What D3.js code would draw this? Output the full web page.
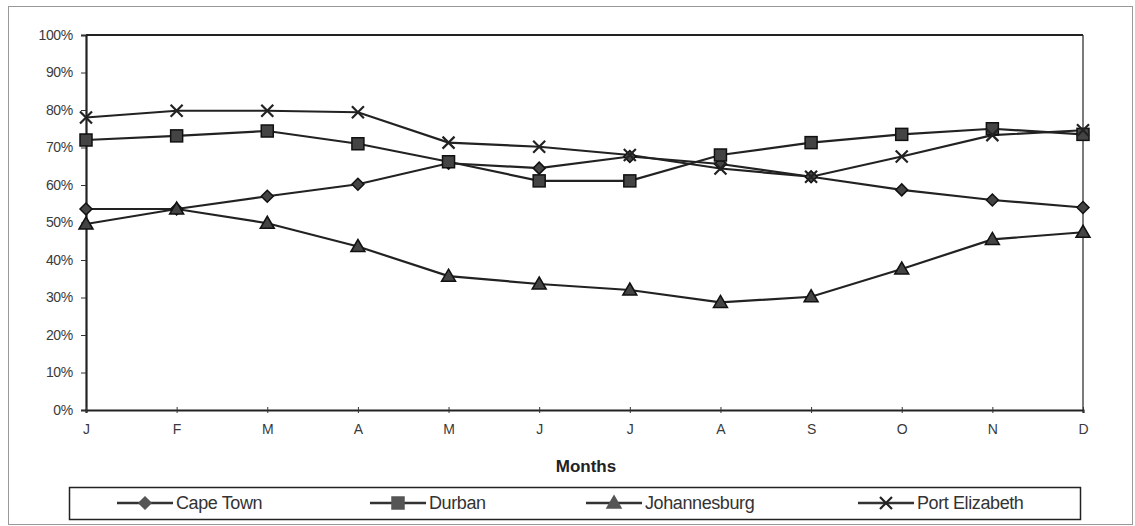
<!DOCTYPE html>
<html><head><meta charset="utf-8">
<script src="https://cdn.jsdelivr.net/npm/d3@7"></script>
<style>body{margin:0;background:#fff;}svg{display:block;font-family:"Liberation Sans",Arial,sans-serif;}</style>
</head><body><svg id="c" width="1135" height="526"></svg>
<script>
const months = ["J","F","M","A","M","J","J","A","S","O","N","D"];
const yTicks = [0,10,20,30,40,50,60,70,80,90,100];
const capeTown = [53.6,53.6,57,60.2,65.8,64.5,67.6,65.6,62.2,58.7,56,54];
const durban = [72,73.1,74.4,71,66.2,61.1,61.1,68,71.3,73.5,75,73.5];
const johannesburg = [49.6,53.6,49.8,43.6,35.7,33.6,32,28.7,30.2,37.6,45.5,47.4];
const portElizabeth = [78,79.8,79.8,79.4,71.3,70.2,68,64.4,62.2,67.6,73.3,74.6];
const seriesNames = ["Cape Town","Durban","Johannesburg","Port Elizabeth"];
const seriesData = [capeTown, durban, johannesburg, portElizabeth];
const seriesMarkers = ["diamond","square","triangle","x"];

const svg = d3.select("#c");
const L = 86, R = 1083, T = 35, B = 410;
const x = d3.scalePoint().domain(d3.range(months.length)).range([L, R]).padding(0);
const y = d3.scaleLinear().domain([0, 100]).range([B, T]);

// outer frame
svg.append("rect").attr("x", 8.5).attr("y", 6.5).attr("width", 1124).attr("height", 518)
  .attr("fill", "none").attr("stroke", "#999").attr("stroke-width", 1);

// plot frame top/right
svg.append("line").attr("x1", L).attr("x2", R).attr("y1", T).attr("y2", T).attr("stroke", "#222").attr("stroke-width", 2);
svg.append("line").attr("x1", R).attr("x2", R).attr("y1", T).attr("y2", B).attr("stroke", "#333").attr("stroke-width", 1.3);

// axes
const yAxis = d3.axisLeft(y).tickValues(yTicks).tickFormat(d => d + "%").tickSize(5).tickPadding(8);
const gy = svg.append("g").attr("transform", `translate(${L},0)`).call(yAxis);
gy.select(".domain").attr("stroke", "#222").attr("stroke-width", 2.2);
gy.selectAll(".tick line").attr("stroke", "#333");
gy.selectAll("text").attr("font-size", 14).attr("fill", "#3a3a3a").attr("letter-spacing", -0.3);

const xAxis = d3.axisBottom(x).tickFormat(i => months[i]).tickSize(3).tickPadding(11);
const gx = svg.append("g").attr("transform", `translate(0,${B})`).call(xAxis);
gx.select(".domain").attr("stroke", "#222").attr("stroke-width", 2.2);
gx.selectAll(".tick line").attr("stroke", "#333").attr("y1", -3);
gx.selectAll("text").attr("font-size", 14).attr("fill", "#3a3a3a");

svg.append("text").attr("x", 586).attr("y", 472).attr("text-anchor", "middle")
  .attr("font-size", 17).attr("font-weight", "bold").attr("fill", "#222").text("Months");

const line = d3.line().x((d, i) => x(i)).y(d => y(d));

function marker(g, type, cx, cy, s, legend) {
  const fill = legend ? "#555" : "#444";
  const stroke = legend ? "#555" : "#111";
  if (type === "diamond") {
    g.append("path").attr("d", `M${cx},${cy-s}L${cx+s},${cy}L${cx},${cy+s}L${cx-s},${cy}Z`)
      .attr("fill", fill).attr("stroke", stroke).attr("stroke-width", 1.5);
  } else if (type === "square") {
    g.append("rect").attr("x", cx-s).attr("y", cy-s).attr("width", 2*s).attr("height", 2*s)
      .attr("fill", fill).attr("stroke", stroke).attr("stroke-width", 1.5);
  } else if (type === "triangle") {
    g.append("path").attr("d", `M${cx},${cy-s-1}L${cx+s+1},${cy+s-1}L${cx-s-1},${cy+s-1}Z`)
      .attr("fill", fill).attr("stroke", stroke).attr("stroke-width", 1.5);
  } else {
    g.append("path").attr("d", `M${cx-s},${cy-s}L${cx+s},${cy+s}M${cx+s},${cy-s}L${cx-s},${cy+s}`)
      .attr("fill", "none").attr("stroke", "#222").attr("stroke-width", 2.2);
  }
}

seriesData.forEach((vals, k) => {
  svg.append("path").datum(vals).attr("d", line).attr("fill", "none")
    .attr("stroke", "#222").attr("stroke-width", 2.2);
});
seriesData.forEach((vals, k) => {
  const g = svg.append("g");
  vals.forEach((v, i) => marker(g, seriesMarkers[k], x(i), y(v), 6, false));
});

// legend
svg.append("rect").attr("x", 69.5).attr("y", 487.5).attr("width", 1011).attr("height", 32)
  .attr("fill", "none").attr("stroke", "#222").attr("stroke-width", 1.5);
const legX = [117, 370, 586, 858];
seriesNames.forEach((n, k) => {
  const g = svg.append("g");
  const lx = legX[k], ly = 503;
  g.append("line").attr("x1", lx).attr("x2", lx + 56).attr("y1", ly).attr("y2", ly)
    .attr("stroke", "#333").attr("stroke-width", 2.5);
  marker(g, seriesMarkers[k], lx + 28, ly, 6, true);
  g.append("text").attr("x", lx + 59).attr("y", ly + 6).attr("font-size", 18).attr("fill", "#333")
    .attr("letter-spacing", -0.4).text(n);
});
</script></body></html>
